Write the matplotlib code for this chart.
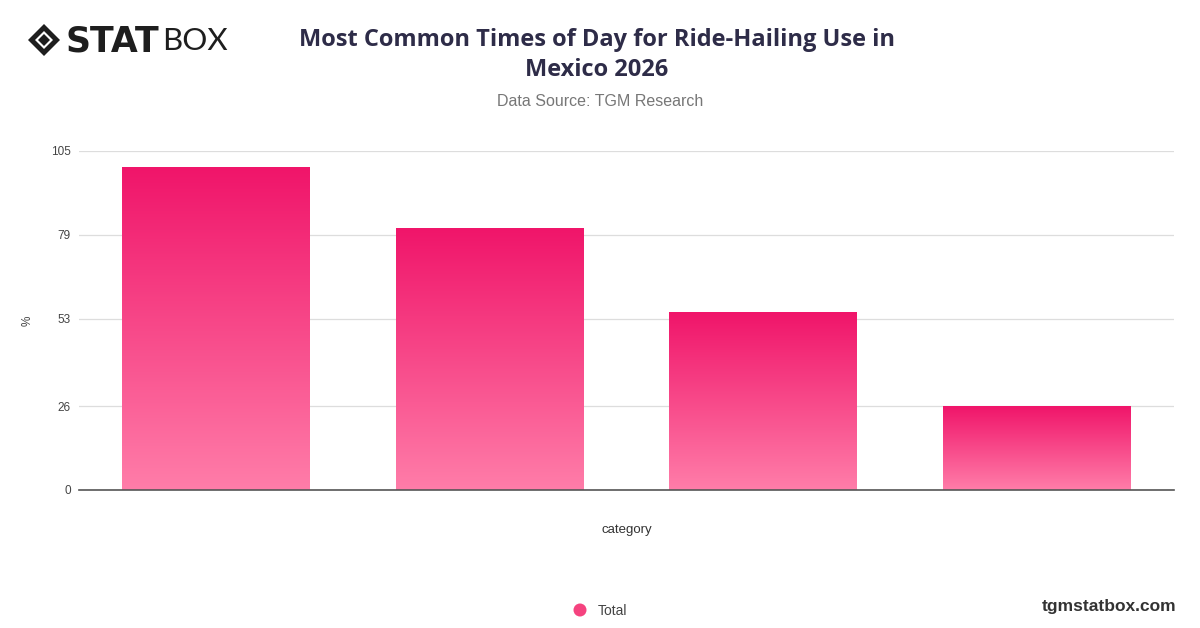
import numpy as np
import matplotlib.pyplot as plt
from matplotlib.colors import LinearSegmentedColormap
from matplotlib.patches import Polygon, Ellipse

# chart data
categories = ["Morning", "Evening", "Afternoon", "Night"]
values = [100, 81, 55, 26]
y_ticks = [0, 26, 53, 79, 105]

title = "Most Common Times of Day for Ride-Hailing Use in\nMexico 2026"
subtitle = "Data Source: TGM Research"

plt.rcParams['font.family'] = ['Liberation Sans', 'DejaVu Sans']

fig = plt.figure(figsize=(12, 6.28), dpi=100)
ax = fig.add_axes([79 / 1200, 138 / 628, 1095 / 1200, 339 / 628])

grad = LinearSegmentedColormap.from_list("pinkgrad", ["#FF7DA9", "#F0156A"])
x = np.arange(len(categories))
bars = ax.bar(x, values, width=0.686, color="none", edgecolor="none", zorder=2)
g = np.linspace(0, 1, 256).reshape(-1, 1)
for b in bars:
    x0, w, h = b.get_x(), b.get_width(), b.get_height()
    im = ax.imshow(g, cmap=grad, aspect="auto", origin="lower",
                   extent=[x0, x0 + w, 0, h], zorder=2)
    im.set_clip_path(b)

ax.set_xlim(-0.5, len(categories) - 0.5)
ax.set_ylim(0, 105)
ax.set_yticks(y_ticks)
ax.set_xticks([])
ax.tick_params(axis="y", length=0, pad=6, labelsize=8.5, labelcolor="#444444")
ax.grid(axis="y", color="#DDDDDD", linewidth=0.9, zorder=0)
for s in ["top", "right", "left"]:
    ax.spines[s].set_visible(False)
ax.spines["bottom"].set_color("#555555")
ax.spines["bottom"].set_linewidth(1.2)
ax.spines["bottom"].set_zorder(3)
ax.set_xlabel("category", fontsize=9.5, color="#333333")
ax.xaxis.set_label_coords(0.5, -0.1)
fig.text(28 / 1200, 1 - 321 / 628, "%", rotation=90, ha="center", va="center",
         fontsize=8.5, color="#444444")

# titles
fig.text(597 / 1200, 1 - 55 / 628, title, ha="center", va="center",
         fontsize=17, fontweight="bold", color="#2E2C48", linespacing=1.3,
         family=["Open Sans", "DejaVu Sans"])
fig.text(600 / 1200, 1 - 101 / 628, subtitle, ha="center", va="center",
         fontsize=11.5, color="#777777")

# logo
diamond = Polygon([[44 / 1200, 1 - 24 / 628], [60 / 1200, 1 - 40 / 628],
                   [44 / 1200, 1 - 56 / 628], [28 / 1200, 1 - 40 / 628]],
                  closed=True, transform=fig.transFigure, facecolor="#1E1E1E")
fig.patches.append(diamond)
inner = Polygon([[44 / 1200, 1 - 31 / 628], [53 / 1200, 1 - 40 / 628],
                 [44 / 1200, 1 - 49 / 628], [35 / 1200, 1 - 40 / 628]],
                closed=True, transform=fig.transFigure, facecolor="white")
fig.patches.append(inner)
inner2 = Polygon([[44 / 1200, 1 - 34 / 628], [50 / 1200, 1 - 40 / 628],
                  [44 / 1200, 1 - 46 / 628], [38 / 1200, 1 - 40 / 628]],
                 closed=True, transform=fig.transFigure, facecolor="#1E1E1E")
fig.patches.append(inner2)
fig.text(66 / 1200, 1 - 41 / 628, "STAT", ha="left", va="center",
         fontsize=25, fontweight="heavy", color="#1E1E1E",
         family=["DejaVu Sans"])
fig.text(162 / 1200, 1 - 41 / 628, "BOX", ha="left", va="center",
         fontsize=22.5, fontweight="normal", color="#1E1E1E",
         family=["Lato", "DejaVu Sans"])

# legend
fig.patches.append(Ellipse((580 / 1200, 1 - 610 / 628), 13 / 1200, 13 / 628,
                           transform=fig.transFigure, facecolor="#F5437F"))
fig.text(598 / 1200, 1 - 611 / 628, "Total", ha="left", va="center",
         fontsize=10, color="#444444")
fig.text(1176 / 1200, 1 - 606 / 628, "tgmstatbox.com", ha="right", va="center",
         fontsize=12.5, fontweight="bold", color="#333333")

fig.savefig("out.png", dpi=100, facecolor="white")
